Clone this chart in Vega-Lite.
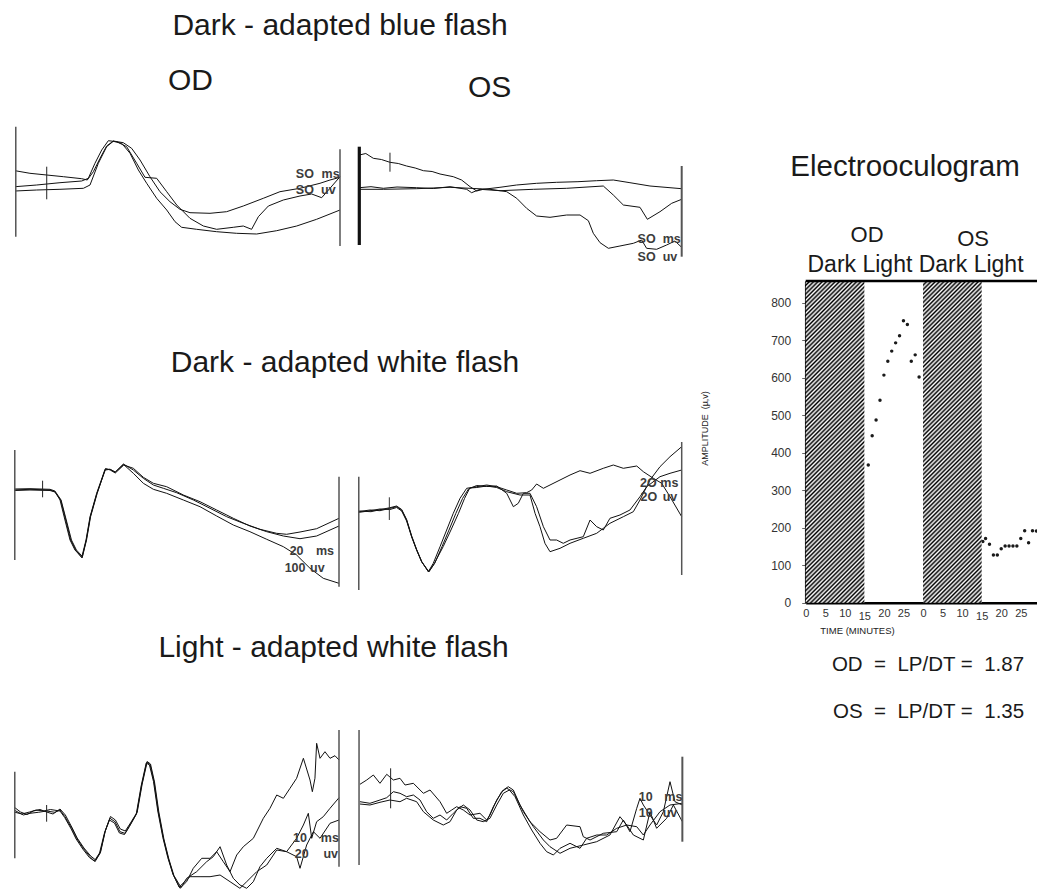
{
"$schema": "https://vega.github.io/schema/vega-lite/v6.json",
"width": 1037, "height": 890, "padding": 0, "autosize": {"type": "none"},
"background": "white",
"config": {"view": {"stroke": null}, "font": "Liberation Sans"},
"datasets": {
"r1l": [
{"k":"L","s":"a","t":0,"v":159.3},{"k":"L","s":"a","t":11.5,"v":156.7},{"k":"L","s":"a","t":24.4,"v":155},{"k":"L","s":"a","t":37.2,"v":153.3},{"k":"L","s":"a","t":51.3,"v":151.3},{"k":"L","s":"a","t":55.6,"v":150},{"k":"L","s":"a","t":60.3,"v":158.3},{"k":"L","s":"a","t":65.4,"v":171.7},{"k":"L","s":"a","t":70.5,"v":184},{"k":"L","s":"a","t":75.6,"v":189},{"k":"L","s":"a","t":83.3,"v":187.3},{"k":"L","s":"a","t":89.7,"v":181.7},{"k":"L","s":"a","t":96.2,"v":170},{"k":"L","s":"a","t":103.8,"v":153.3},{"k":"L","s":"a","t":111.5,"v":138.3},{"k":"L","s":"a","t":119.2,"v":128.3},{"k":"L","s":"a","t":126.9,"v":120.7},{"k":"L","s":"a","t":134.6,"v":117.3},{"k":"L","s":"a","t":150,"v":116.7},{"k":"L","s":"a","t":162.8,"v":118.3},{"k":"L","s":"a","t":175.6,"v":124},{"k":"L","s":"a","t":191,"v":131.7},{"k":"L","s":"a","t":203.8,"v":138.3},{"k":"L","s":"a","t":219.2,"v":141.7},{"k":"L","s":"a","t":234.6,"v":146.7},{"k":"L","s":"a","t":242.3,"v":150},{"k":"L","s":"a","t":250,"v":152.7},
{"k":"L","s":"b","t":0,"v":143.3},{"k":"L","s":"b","t":16.7,"v":145},{"k":"L","s":"b","t":34.6,"v":147.3},{"k":"L","s":"b","t":51.3,"v":149},{"k":"L","s":"b","t":56.4,"v":151.7},{"k":"L","s":"b","t":61.5,"v":166.7},{"k":"L","s":"b","t":66.7,"v":180},{"k":"L","s":"b","t":71.8,"v":189.3},{"k":"L","s":"b","t":78.2,"v":188.3},{"k":"L","s":"b","t":85.9,"v":183.3},{"k":"L","s":"b","t":93.6,"v":166.7},{"k":"L","s":"b","t":100,"v":152.7},{"k":"L","s":"b","t":109,"v":151.7},{"k":"L","s":"b","t":116.7,"v":138.3},{"k":"L","s":"b","t":124.4,"v":125},{"k":"L","s":"b","t":134.6,"v":111.7},{"k":"L","s":"b","t":144.9,"v":104},{"k":"L","s":"b","t":155.1,"v":100.7},{"k":"L","s":"b","t":167.9,"v":102.7},{"k":"L","s":"b","t":175.6,"v":104},{"k":"L","s":"b","t":182,"v":100.7},{"k":"L","s":"b","t":187.2,"v":113.3},{"k":"L","s":"b","t":194.9,"v":124},{"k":"L","s":"b","t":206.4,"v":130},{"k":"L","s":"b","t":219.2,"v":134},{"k":"L","s":"b","t":228.2,"v":136},{"k":"L","s":"b","t":235.9,"v":132.3},{"k":"L","s":"b","t":242.3,"v":141.7},{"k":"L","s":"b","t":250,"v":153.3},
{"k":"L","s":"c","t":0,"v":139},{"k":"L","s":"c","t":16.7,"v":140},{"k":"L","s":"c","t":34.6,"v":140.7},{"k":"L","s":"c","t":52.6,"v":141.7},{"k":"L","s":"c","t":57.7,"v":145},{"k":"L","s":"c","t":64.1,"v":166.7},{"k":"L","s":"c","t":70.5,"v":183.3},{"k":"L","s":"c","t":75.6,"v":188.7},{"k":"L","s":"c","t":82.1,"v":186.7},{"k":"L","s":"c","t":88.5,"v":176.7},{"k":"L","s":"c","t":94.9,"v":160},{"k":"L","s":"c","t":101.3,"v":146.7},{"k":"L","s":"c","t":109,"v":131.7},{"k":"L","s":"c","t":116.7,"v":120},{"k":"L","s":"c","t":123.1,"v":108.3},{"k":"L","s":"c","t":128.2,"v":102.7},{"k":"L","s":"c","t":139.7,"v":100.7},{"k":"L","s":"c","t":155.1,"v":98.3},{"k":"L","s":"c","t":170.5,"v":96.7},{"k":"L","s":"c","t":185.9,"v":96},{"k":"L","s":"c","t":201.3,"v":99.3},{"k":"L","s":"c","t":216.7,"v":104},{"k":"L","s":"c","t":232,"v":110.7},{"k":"L","s":"c","t":250,"v":120},
{"k":"R","t":0.6,"v":203.3,"v2":93.3,"w":1.5,"c":"#555"},{"k":"R","t":250,"v":180.7,"v2":84,"w":1.5,"c":"#555"},{"k":"R","t":24.4,"v":163.3,"v2":130.7,"w":1,"c":"#222"},
{"k":"S","t":223,"v":156,"txt":"SO"},{"k":"S","t":242.8,"v":156,"txt":"ms"},{"k":"S","t":223,"v":140,"txt":"SO"},{"k":"S","t":241,"v":140,"txt":"uv"},
{"k":"T","t":250,"v":304,"txt":"Dark - adapted blue flash"},{"k":"T","t":135,"v":249.5,"txt":"OD"}
],
"r1r": [
{"k":"L","s":"a","t":1,"v":175},{"k":"L","s":"a","t":6,"v":176.5},{"k":"L","s":"a","t":11.8,"v":171.7},{"k":"L","s":"a","t":18,"v":170.5},{"k":"L","s":"a","t":24.6,"v":167.7},{"k":"L","s":"a","t":31,"v":166.5},{"k":"L","s":"a","t":37.4,"v":164},{"k":"L","s":"a","t":44,"v":162},{"k":"L","s":"a","t":50.3,"v":159.3},{"k":"L","s":"a","t":57,"v":158.5},{"k":"L","s":"a","t":63.1,"v":156},{"k":"L","s":"a","t":73.3,"v":153.3},{"k":"L","s":"a","t":79.7,"v":150},{"k":"L","s":"a","t":86.2,"v":143.3},{"k":"L","s":"a","t":91.3,"v":139},{"k":"L","s":"a","t":96.4,"v":140.7},{"k":"L","s":"a","t":109.2,"v":142.7},{"k":"L","s":"a","t":122,"v":145},{"k":"L","s":"a","t":137.4,"v":146.7},{"k":"L","s":"a","t":152.8,"v":147.7},{"k":"L","s":"a","t":169.2,"v":148.3},{"k":"L","s":"a","t":183.6,"v":149.3},{"k":"L","s":"a","t":196.4,"v":150},{"k":"L","s":"a","t":209.2,"v":147.3},{"k":"L","s":"a","t":224.6,"v":144},{"k":"L","s":"a","t":249,"v":141.3},
{"k":"L","s":"b","t":1,"v":142.3},{"k":"L","s":"b","t":10,"v":143.3},{"k":"L","s":"b","t":19.5,"v":141.7},{"k":"L","s":"b","t":30,"v":143},{"k":"L","s":"b","t":45.1,"v":142.3},{"k":"L","s":"b","t":58,"v":141.5},{"k":"L","s":"b","t":70.8,"v":143.3},{"k":"L","s":"b","t":83.6,"v":140.7},{"k":"L","s":"b","t":87.4,"v":137.3},{"k":"L","s":"b","t":93.8,"v":140.7},{"k":"L","s":"b","t":109.2,"v":139.3},{"k":"L","s":"b","t":134.9,"v":140.7},{"k":"L","s":"b","t":160.5,"v":141.7},{"k":"L","s":"b","t":188.7,"v":144},{"k":"L","s":"b","t":196.4,"v":135},{"k":"L","s":"b","t":204.1,"v":125},{"k":"L","s":"b","t":216.9,"v":122.7},{"k":"L","s":"b","t":222.6,"v":110.7},{"k":"L","s":"b","t":232.3,"v":118.3},{"k":"L","s":"b","t":241.3,"v":126.7},{"k":"L","s":"b","t":249,"v":130.7},
{"k":"L","s":"c","t":1,"v":140.7},{"k":"L","s":"c","t":19.5,"v":140.7},{"k":"L","s":"c","t":45.1,"v":141.3},{"k":"L","s":"c","t":70.8,"v":142.7},{"k":"L","s":"c","t":86.2,"v":141.7},{"k":"L","s":"c","t":101.5,"v":140.7},{"k":"L","s":"c","t":114.4,"v":138.3},{"k":"L","s":"c","t":122.1,"v":131.7},{"k":"L","s":"c","t":129.7,"v":121.7},{"k":"L","s":"c","t":137.4,"v":114},{"k":"L","s":"c","t":147.7,"v":112.7},{"k":"L","s":"c","t":160.5,"v":115},{"k":"L","s":"c","t":170.8,"v":115},{"k":"L","s":"c","t":177.2,"v":109.3},{"k":"L","s":"c","t":181,"v":96.7},{"k":"L","s":"c","t":186.2,"v":87.3},{"k":"L","s":"c","t":192.6,"v":81.7},{"k":"L","s":"c","t":201.5,"v":84},{"k":"L","s":"c","t":211.8,"v":86.7},{"k":"L","s":"c","t":218.2,"v":90},{"k":"L","s":"c","t":222,"v":81.7},{"k":"L","s":"c","t":229.7,"v":80.7},{"k":"L","s":"c","t":237.4,"v":85},{"k":"L","s":"c","t":243.8,"v":89},{"k":"L","s":"c","t":249,"v":82.7},
{"k":"R","t":1,"v":183.3,"v2":85,"w":3.2,"c":"#111"},{"k":"R","t":249,"v":164,"v2":73.3,"w":2,"c":"#555"},{"k":"R","t":24.6,"v":177.3,"v2":158.3,"w":1,"c":"#222"},
{"k":"S","t":222,"v":90.7,"txt":"SO"},{"k":"S","t":241.3,"v":90.7,"txt":"ms"},{"k":"S","t":222,"v":73.3,"txt":"SO"},{"k":"S","t":240,"v":73.3,"txt":"uv"},
{"k":"T","t":101.2,"v":242,"txt":"OS"}
],
"r2l": [
{"k":"L","s":"a","t":0,"v":130},{"k":"L","s":"a","t":12.3,"v":130.7},{"k":"L","s":"a","t":27.7,"v":130},{"k":"L","s":"a","t":31.5,"v":128.3},{"k":"L","s":"a","t":35.4,"v":120},{"k":"L","s":"a","t":39.2,"v":100},{"k":"L","s":"a","t":43.1,"v":80},{"k":"L","s":"a","t":46.9,"v":70},{"k":"L","s":"a","t":52.1,"v":62.7},{"k":"L","s":"a","t":55.4,"v":80},{"k":"L","s":"a","t":58.5,"v":103.3},{"k":"L","s":"a","t":63.6,"v":126.7},{"k":"L","s":"a","t":70,"v":150.7},{"k":"L","s":"a","t":73.8,"v":150.7},{"k":"L","s":"a","t":77.7,"v":147.7},{"k":"L","s":"a","t":84.1,"v":156},{"k":"L","s":"a","t":91.8,"v":150},{"k":"L","s":"a","t":99.5,"v":141.7},{"k":"L","s":"a","t":107.2,"v":135},{"k":"L","s":"a","t":114.9,"v":131.7},{"k":"L","s":"a","t":125.1,"v":127.3},{"k":"L","s":"a","t":138,"v":120},{"k":"L","s":"a","t":150.8,"v":111.7},{"k":"L","s":"a","t":163.6,"v":103.3},{"k":"L","s":"a","t":176.4,"v":96.7},{"k":"L","s":"a","t":189.2,"v":90.7},{"k":"L","s":"a","t":202,"v":86.7},{"k":"L","s":"a","t":209.7,"v":85.7},{"k":"L","s":"a","t":220,"v":88},{"k":"L","s":"a","t":232.8,"v":91.3},{"k":"L","s":"a","t":250,"v":101.7},
{"k":"L","s":"b","t":0,"v":131},{"k":"L","s":"b","t":12.3,"v":131.3},{"k":"L","s":"b","t":27.7,"v":130.7},{"k":"L","s":"b","t":31.5,"v":129},{"k":"L","s":"b","t":36.2,"v":120},{"k":"L","s":"b","t":40.2,"v":100},{"k":"L","s":"b","t":44.2,"v":80},{"k":"L","s":"b","t":48,"v":70},{"k":"L","s":"b","t":52.6,"v":63.5},{"k":"L","s":"b","t":55.8,"v":80},{"k":"L","s":"b","t":58.9,"v":103.3},{"k":"L","s":"b","t":64,"v":126.7},{"k":"L","s":"b","t":70.4,"v":151.5},{"k":"L","s":"b","t":74,"v":150},{"k":"L","s":"b","t":77.9,"v":147},{"k":"L","s":"b","t":84.5,"v":155},{"k":"L","s":"b","t":91.8,"v":151.7},{"k":"L","s":"b","t":99.5,"v":142.7},{"k":"L","s":"b","t":107.2,"v":136.7},{"k":"L","s":"b","t":117.4,"v":133.3},{"k":"L","s":"b","t":130.3,"v":125},{"k":"L","s":"b","t":143.1,"v":118.3},{"k":"L","s":"b","t":155.9,"v":110},{"k":"L","s":"b","t":168.7,"v":101.7},{"k":"L","s":"b","t":181.5,"v":94},{"k":"L","s":"b","t":194.4,"v":88.3},{"k":"L","s":"b","t":207.2,"v":84},{"k":"L","s":"b","t":220,"v":81.3},{"k":"L","s":"b","t":232.8,"v":84},{"k":"L","s":"b","t":250,"v":94},
{"k":"L","s":"c","t":0,"v":129.5},{"k":"L","s":"c","t":12.3,"v":130},{"k":"L","s":"c","t":27.7,"v":129.5},{"k":"L","s":"c","t":31.5,"v":128},{"k":"L","s":"c","t":35.9,"v":120},{"k":"L","s":"c","t":39.8,"v":100},{"k":"L","s":"c","t":43.6,"v":80},{"k":"L","s":"c","t":47.4,"v":70},{"k":"L","s":"c","t":52.4,"v":62},{"k":"L","s":"c","t":55.6,"v":80},{"k":"L","s":"c","t":58.7,"v":103.3},{"k":"L","s":"c","t":63.8,"v":126.7},{"k":"L","s":"c","t":70.2,"v":150},{"k":"L","s":"c","t":74,"v":150.7},{"k":"L","s":"c","t":78,"v":148},{"k":"L","s":"c","t":84.3,"v":155.5},{"k":"L","s":"c","t":91.8,"v":146.7},{"k":"L","s":"c","t":99.5,"v":136.7},{"k":"L","s":"c","t":107.2,"v":130.7},{"k":"L","s":"c","t":117.4,"v":126.7},{"k":"L","s":"c","t":130.3,"v":120},{"k":"L","s":"c","t":143.1,"v":113.3},{"k":"L","s":"c","t":155.9,"v":104},{"k":"L","s":"c","t":168.7,"v":95},{"k":"L","s":"c","t":181.5,"v":88.3},{"k":"L","s":"c","t":194.4,"v":80.7},{"k":"L","s":"c","t":207.2,"v":73.3},{"k":"L","s":"c","t":217.4,"v":65},{"k":"L","s":"c","t":227.7,"v":51.7},{"k":"L","s":"c","t":237.9,"v":41.7},{"k":"L","s":"c","t":250,"v":36.7},
{"k":"R","t":0.6,"v":170,"v2":60,"w":1.5,"c":"#555"},{"k":"R","t":250,"v":143.3,"v2":33.3,"w":1.5,"c":"#555"},{"k":"R","t":22,"v":139.3,"v2":122.7,"w":1,"c":"#222"},
{"k":"S","t":217.4,"v":69,"txt":"20"},{"k":"S","t":239.2,"v":69,"txt":"ms"},{"k":"S","t":216.2,"v":52.3,"txt":"100"},{"k":"S","t":233.3,"v":52.3,"txt":"uv"},
{"k":"T","t":254.6,"v":257,"txt":"Dark - adapted white flash"}
],
"r2r": [
{"k":"L","s":"a","t":0,"v":108.3},{"k":"L","s":"a","t":9.2,"v":110},{"k":"L","s":"a","t":16.9,"v":109.3},{"k":"L","s":"a","t":24.6,"v":111.7},{"k":"L","s":"a","t":29.7,"v":113.3},{"k":"L","s":"a","t":33.6,"v":110},{"k":"L","s":"a","t":37.4,"v":100},{"k":"L","s":"a","t":41.3,"v":83.3},{"k":"L","s":"a","t":45.1,"v":70},{"k":"L","s":"a","t":49,"v":58.3},{"k":"L","s":"a","t":54.1,"v":48.3},{"k":"L","s":"a","t":57.9,"v":56.7},{"k":"L","s":"a","t":63.1,"v":73.3},{"k":"L","s":"a","t":68.2,"v":90},{"k":"L","s":"a","t":73.3,"v":106.7},{"k":"L","s":"a","t":78.5,"v":121.7},{"k":"L","s":"a","t":83.6,"v":131.7},{"k":"L","s":"a","t":91.3,"v":133.3},{"k":"L","s":"a","t":99,"v":135},{"k":"L","s":"a","t":106.7,"v":133.3},{"k":"L","s":"a","t":114.4,"v":130},{"k":"L","s":"a","t":122.1,"v":126.7},{"k":"L","s":"a","t":129.7,"v":127.3},{"k":"L","s":"a","t":133.6,"v":130},{"k":"L","s":"a","t":137.4,"v":136},{"k":"L","s":"a","t":142.6,"v":131.7},{"k":"L","s":"a","t":147.7,"v":135},{"k":"L","s":"a","t":155.4,"v":140},{"k":"L","s":"a","t":163.1,"v":145},{"k":"L","s":"a","t":170.8,"v":149.3},{"k":"L","s":"a","t":178.5,"v":146.7},{"k":"L","s":"a","t":188.7,"v":151.7},{"k":"L","s":"a","t":196.4,"v":155},{"k":"L","s":"a","t":204.1,"v":151.7},{"k":"L","s":"a","t":214.4,"v":154},{"k":"L","s":"a","t":219.5,"v":148.3},{"k":"L","s":"a","t":227.2,"v":141.7},{"k":"L","s":"a","t":233.6,"v":136.7},{"k":"L","s":"a","t":240,"v":123.3},{"k":"L","s":"a","t":249,"v":103.3},
{"k":"L","s":"b","t":0,"v":107.5},{"k":"L","s":"b","t":8,"v":109},{"k":"L","s":"b","t":16.9,"v":111},{"k":"L","s":"b","t":24.6,"v":110.5},{"k":"L","s":"b","t":29.7,"v":112.5},{"k":"L","s":"b","t":33.6,"v":109},{"k":"L","s":"b","t":37.4,"v":99},{"k":"L","s":"b","t":41.3,"v":83},{"k":"L","s":"b","t":45.1,"v":70},{"k":"L","s":"b","t":49,"v":58},{"k":"L","s":"b","t":54.6,"v":48.3},{"k":"L","s":"b","t":59,"v":56.7},{"k":"L","s":"b","t":64.6,"v":73.3},{"k":"L","s":"b","t":70,"v":90},{"k":"L","s":"b","t":75.3,"v":106.7},{"k":"L","s":"b","t":80.5,"v":121.7},{"k":"L","s":"b","t":85,"v":131},{"k":"L","s":"b","t":91.3,"v":134.5},{"k":"L","s":"b","t":99,"v":133.5},{"k":"L","s":"b","t":106.7,"v":134},{"k":"L","s":"b","t":114.4,"v":126.7},{"k":"L","s":"b","t":119.5,"v":113.3},{"k":"L","s":"b","t":123.3,"v":116.7},{"k":"L","s":"b","t":127.2,"v":126.7},{"k":"L","s":"b","t":132.3,"v":126.7},{"k":"L","s":"b","t":137.4,"v":113.3},{"k":"L","s":"b","t":142.6,"v":93.3},{"k":"L","s":"b","t":147.7,"v":80},{"k":"L","s":"b","t":152.8,"v":80},{"k":"L","s":"b","t":157.9,"v":76.7},{"k":"L","s":"b","t":163.1,"v":80},{"k":"L","s":"b","t":173.3,"v":83.3},{"k":"L","s":"b","t":178.5,"v":100},{"k":"L","s":"b","t":183.6,"v":93.3},{"k":"L","s":"b","t":188.7,"v":90},{"k":"L","s":"b","t":193.8,"v":101.7},{"k":"L","s":"b","t":201.5,"v":105},{"k":"L","s":"b","t":209.2,"v":110},{"k":"L","s":"b","t":216.9,"v":123.3},{"k":"L","s":"b","t":222.1,"v":133.3},{"k":"L","s":"b","t":232.3,"v":143.3},{"k":"L","s":"b","t":240,"v":146.7},{"k":"L","s":"b","t":249,"v":150},
{"k":"L","s":"c","t":0,"v":109},{"k":"L","s":"c","t":10,"v":108.3},{"k":"L","s":"c","t":16.9,"v":110.3},{"k":"L","s":"c","t":24.6,"v":112.3},{"k":"L","s":"c","t":29.7,"v":114},{"k":"L","s":"c","t":33.6,"v":110.5},{"k":"L","s":"c","t":37.4,"v":100.5},{"k":"L","s":"c","t":41.3,"v":84},{"k":"L","s":"c","t":45.1,"v":70.5},{"k":"L","s":"c","t":49,"v":58.5},{"k":"L","s":"c","t":54.3,"v":48},{"k":"L","s":"c","t":58.8,"v":56.7},{"k":"L","s":"c","t":65.5,"v":73.3},{"k":"L","s":"c","t":71.5,"v":90},{"k":"L","s":"c","t":77.3,"v":106.7},{"k":"L","s":"c","t":82,"v":121.7},{"k":"L","s":"c","t":86,"v":132},{"k":"L","s":"c","t":91.3,"v":132.5},{"k":"L","s":"c","t":99,"v":134},{"k":"L","s":"c","t":106.7,"v":132.5},{"k":"L","s":"c","t":114.4,"v":128.3},{"k":"L","s":"c","t":124.6,"v":125},{"k":"L","s":"c","t":132.3,"v":125},{"k":"L","s":"c","t":136.2,"v":106.7},{"k":"L","s":"c","t":140,"v":93.3},{"k":"L","s":"c","t":143.8,"v":76.7},{"k":"L","s":"c","t":147.7,"v":68.3},{"k":"L","s":"c","t":155.4,"v":71.7},{"k":"L","s":"c","t":163.1,"v":76.7},{"k":"L","s":"c","t":173.3,"v":81.7},{"k":"L","s":"c","t":183.6,"v":86.7},{"k":"L","s":"c","t":193.8,"v":96.7},{"k":"L","s":"c","t":204.1,"v":103.3},{"k":"L","s":"c","t":211.8,"v":108.3},{"k":"L","s":"c","t":216.9,"v":120},{"k":"L","s":"c","t":224.6,"v":140},{"k":"L","s":"c","t":232.3,"v":153.3},{"k":"L","s":"c","t":240,"v":163.3},{"k":"L","s":"c","t":249,"v":173.3},
{"k":"R","t":0.6,"v":143.3,"v2":30,"w":1.5,"c":"#555"},{"k":"R","t":249,"v":178,"v2":45,"w":1.5,"c":"#555"},{"k":"R","t":24.1,"v":122.7,"v2":100,"w":1,"c":"#333"},
{"k":"S","t":223.3,"v":137.3,"txt":"2O"},{"k":"S","t":239.5,"v":137.3,"txt":"ms"},{"k":"S","t":223.8,"v":122.7,"txt":"2O"},{"k":"S","t":240,"v":122.7,"txt":"uv"}
],
"r3l": [
{"k":"L","s":"a","t":0,"v":80},{"k":"L","s":"a","t":7.2,"v":75},{"k":"L","s":"a","t":12.3,"v":76.7},{"k":"L","s":"a","t":18.7,"v":77.7},{"k":"L","s":"a","t":25.1,"v":79},{"k":"L","s":"a","t":31.5,"v":77.7},{"k":"L","s":"a","t":35.4,"v":80},{"k":"L","s":"a","t":39.2,"v":73.3},{"k":"L","s":"a","t":44.4,"v":61.7},{"k":"L","s":"a","t":48.2,"v":51.7},{"k":"L","s":"a","t":53.3,"v":41.7},{"k":"L","s":"a","t":58.5,"v":33.3},{"k":"L","s":"a","t":62.3,"v":28.3},{"k":"L","s":"a","t":66.2,"v":36.7},{"k":"L","s":"a","t":70,"v":58.3},{"k":"L","s":"a","t":73.8,"v":71.7},{"k":"L","s":"a","t":77.7,"v":68.3},{"k":"L","s":"a","t":81.5,"v":58.3},{"k":"L","s":"a","t":85.4,"v":56.7},{"k":"L","s":"a","t":89.2,"v":65},{"k":"L","s":"a","t":94.4,"v":76.7},{"k":"L","s":"a","t":98.2,"v":105},{"k":"L","s":"a","t":102.1,"v":127.7},{"k":"L","s":"a","t":104.6,"v":125.7},{"k":"L","s":"a","t":107.7,"v":108.3},{"k":"L","s":"a","t":111,"v":78.3},{"k":"L","s":"a","t":114.9,"v":51.7},{"k":"L","s":"a","t":118.7,"v":31.7},{"k":"L","s":"a","t":122.6,"v":15},{"k":"L","s":"a","t":127.7,"v":1.7},{"k":"L","s":"a","t":132.8,"v":8.3},{"k":"L","s":"a","t":137.9,"v":21.7},{"k":"L","s":"a","t":144.4,"v":31.7},{"k":"L","s":"a","t":150.8,"v":31.7},{"k":"L","s":"a","t":155.9,"v":38.3},{"k":"L","s":"a","t":161,"v":28.3},{"k":"L","s":"a","t":166.2,"v":18.3},{"k":"L","s":"a","t":171.3,"v":35},{"k":"L","s":"a","t":176.4,"v":43.3},{"k":"L","s":"a","t":184.1,"v":51.7},{"k":"L","s":"a","t":191.8,"v":71.7},{"k":"L","s":"a","t":196.9,"v":81.7},{"k":"L","s":"a","t":202.1,"v":95},{"k":"L","s":"a","t":207.2,"v":91.7},{"k":"L","s":"a","t":212.3,"v":101.7},{"k":"L","s":"a","t":217.4,"v":111.7},{"k":"L","s":"a","t":222.6,"v":131.7},{"k":"L","s":"a","t":227.7,"v":110},{"k":"L","s":"a","t":229.5,"v":98.3},{"k":"L","s":"a","t":231.5,"v":111.7},{"k":"L","s":"a","t":232.8,"v":146.7},{"k":"L","s":"a","t":235.4,"v":131.7},{"k":"L","s":"a","t":239.2,"v":138.3},{"k":"L","s":"a","t":243.1,"v":131.7},{"k":"L","s":"a","t":246.9,"v":134.3},{"k":"L","s":"a","t":250,"v":130},
{"k":"L","s":"b","t":0,"v":83},{"k":"L","s":"b","t":5,"v":78},{"k":"L","s":"b","t":10,"v":75.5},{"k":"L","s":"b","t":15,"v":79},{"k":"L","s":"b","t":20,"v":80.5},{"k":"L","s":"b","t":25.1,"v":78},{"k":"L","s":"b","t":30,"v":76},{"k":"L","s":"b","t":35.4,"v":81},{"k":"L","s":"b","t":39.5,"v":75},{"k":"L","s":"b","t":44.8,"v":62},{"k":"L","s":"b","t":48.6,"v":52},{"k":"L","s":"b","t":53.8,"v":42},{"k":"L","s":"b","t":59,"v":34},{"k":"L","s":"b","t":62.8,"v":30},{"k":"L","s":"b","t":66.6,"v":38},{"k":"L","s":"b","t":70.4,"v":60},{"k":"L","s":"b","t":74.2,"v":73.5},{"k":"L","s":"b","t":78,"v":70},{"k":"L","s":"b","t":81.8,"v":61},{"k":"L","s":"b","t":85.6,"v":59},{"k":"L","s":"b","t":89.6,"v":67},{"k":"L","s":"b","t":94.8,"v":78},{"k":"L","s":"b","t":98.6,"v":106},{"k":"L","s":"b","t":102.5,"v":128.5},{"k":"L","s":"b","t":105,"v":126},{"k":"L","s":"b","t":108.1,"v":108},{"k":"L","s":"b","t":111.4,"v":78},{"k":"L","s":"b","t":115.3,"v":51},{"k":"L","s":"b","t":119.1,"v":31},{"k":"L","s":"b","t":123,"v":14.5},{"k":"L","s":"b","t":128.5,"v":2.5},{"k":"L","s":"b","t":132.8,"v":11.7},{"k":"L","s":"b","t":140.5,"v":18.3},{"k":"L","s":"b","t":148.2,"v":28.3},{"k":"L","s":"b","t":153.3,"v":33.3},{"k":"L","s":"b","t":158.5,"v":43.3},{"k":"L","s":"b","t":163.6,"v":25},{"k":"L","s":"b","t":168.7,"v":11.7},{"k":"L","s":"b","t":173.8,"v":5},{"k":"L","s":"b","t":179,"v":1.7},{"k":"L","s":"b","t":184.1,"v":8.3},{"k":"L","s":"b","t":189.2,"v":23.3},{"k":"L","s":"b","t":194.4,"v":31.7},{"k":"L","s":"b","t":202.1,"v":41.7},{"k":"L","s":"b","t":209.7,"v":38.3},{"k":"L","s":"b","t":217.4,"v":51.7},{"k":"L","s":"b","t":222.6,"v":65},{"k":"L","s":"b","t":226.4,"v":76.7},{"k":"L","s":"b","t":229,"v":51.7},{"k":"L","s":"b","t":232.8,"v":68.3},{"k":"L","s":"b","t":237.9,"v":73.3},{"k":"L","s":"b","t":243.1,"v":81.7},{"k":"L","s":"b","t":250,"v":92.3},
{"k":"L","s":"c","t":0,"v":78},{"k":"L","s":"c","t":6,"v":76},{"k":"L","s":"c","t":12,"v":78},{"k":"L","s":"c","t":17,"v":80},{"k":"L","s":"c","t":23,"v":79},{"k":"L","s":"c","t":28,"v":80.5},{"k":"L","s":"c","t":35.4,"v":79},{"k":"L","s":"c","t":39,"v":72.5},{"k":"L","s":"c","t":44,"v":61},{"k":"L","s":"c","t":47.8,"v":51},{"k":"L","s":"c","t":52.9,"v":41},{"k":"L","s":"c","t":58,"v":32.5},{"k":"L","s":"c","t":61.8,"v":29},{"k":"L","s":"c","t":65.8,"v":37},{"k":"L","s":"c","t":69.6,"v":57},{"k":"L","s":"c","t":73.4,"v":70},{"k":"L","s":"c","t":77.3,"v":67},{"k":"L","s":"c","t":81.1,"v":57},{"k":"L","s":"c","t":85,"v":55.5},{"k":"L","s":"c","t":88.8,"v":63.5},{"k":"L","s":"c","t":94,"v":75.5},{"k":"L","s":"c","t":97.8,"v":104},{"k":"L","s":"c","t":101.7,"v":127},{"k":"L","s":"c","t":104.2,"v":125},{"k":"L","s":"c","t":107.3,"v":108.5},{"k":"L","s":"c","t":110.6,"v":79},{"k":"L","s":"c","t":114.5,"v":52.5},{"k":"L","s":"c","t":118.3,"v":32.5},{"k":"L","s":"c","t":122.2,"v":16},{"k":"L","s":"c","t":127,"v":3},{"k":"L","s":"c","t":135.4,"v":13.3},{"k":"L","s":"c","t":143.1,"v":13.3},{"k":"L","s":"c","t":150.8,"v":13.3},{"k":"L","s":"c","t":158.5,"v":15},{"k":"L","s":"c","t":166.2,"v":8.3},{"k":"L","s":"c","t":173.8,"v":1.7},{"k":"L","s":"c","t":179,"v":8.3},{"k":"L","s":"c","t":186.7,"v":18.3},{"k":"L","s":"c","t":194.4,"v":25},{"k":"L","s":"c","t":202.1,"v":40},{"k":"L","s":"c","t":209.7,"v":38.3},{"k":"L","s":"c","t":217.4,"v":33.3},{"k":"L","s":"c","t":220,"v":21.7},{"k":"L","s":"c","t":225.1,"v":45},{"k":"L","s":"c","t":230.3,"v":58.3},{"k":"L","s":"c","t":235.4,"v":51.7},{"k":"L","s":"c","t":243.1,"v":66.7},{"k":"L","s":"c","t":250,"v":70},
{"k":"R","t":0.6,"v":118.3,"v2":31.7,"w":1.5,"c":"#555"},{"k":"R","t":250,"v":160,"v2":23.3,"w":1.5,"c":"#555"},{"k":"R","t":25.1,"v":85,"v2":68.3,"w":1,"c":"#222"},
{"k":"S","t":220,"v":51.7,"txt":"10"},{"k":"S","t":243,"v":51.7,"txt":"ms"},{"k":"S","t":221.3,"v":36,"txt":"20"},{"k":"S","t":243.6,"v":36,"txt":"uv"},
{"k":"T","t":245.8,"v":242,"txt":"Light - adapted white flash"}
],
"r3r": [
{"k":"L","s":"a","t":1.5,"v":105.7},{"k":"L","s":"a","t":6.7,"v":110},{"k":"L","s":"a","t":11.8,"v":115},{"k":"L","s":"a","t":16.9,"v":106.7},{"k":"L","s":"a","t":22.1,"v":115.7},{"k":"L","s":"a","t":27.2,"v":110},{"k":"L","s":"a","t":32.3,"v":111.7},{"k":"L","s":"a","t":36.2,"v":105},{"k":"L","s":"a","t":42.6,"v":106.7},{"k":"L","s":"a","t":50.3,"v":96.7},{"k":"L","s":"a","t":55.4,"v":100},{"k":"L","s":"a","t":63.1,"v":88.3},{"k":"L","s":"a","t":68.2,"v":76.7},{"k":"L","s":"a","t":72.1,"v":80},{"k":"L","s":"a","t":75.9,"v":83.3},{"k":"L","s":"a","t":81,"v":80},{"k":"L","s":"a","t":86.2,"v":75},{"k":"L","s":"a","t":93.8,"v":76.7},{"k":"L","s":"a","t":99,"v":70},{"k":"L","s":"a","t":101.5,"v":75},{"k":"L","s":"a","t":106.7,"v":90},{"k":"L","s":"a","t":111.8,"v":100},{"k":"L","s":"a","t":115.6,"v":103.3},{"k":"L","s":"a","t":119.5,"v":100},{"k":"L","s":"a","t":124.6,"v":85},{"k":"L","s":"a","t":132.3,"v":68.3},{"k":"L","s":"a","t":140,"v":58.3},{"k":"L","s":"a","t":147.7,"v":50},{"k":"L","s":"a","t":152.8,"v":51.7},{"k":"L","s":"a","t":160.5,"v":65},{"k":"L","s":"a","t":170.8,"v":63.3},{"k":"L","s":"a","t":173.3,"v":53.3},{"k":"L","s":"a","t":178.5,"v":50},{"k":"L","s":"a","t":188.7,"v":56.7},{"k":"L","s":"a","t":199,"v":58.3},{"k":"L","s":"a","t":204.1,"v":70},{"k":"L","s":"a","t":209.2,"v":58.3},{"k":"L","s":"a","t":214.4,"v":81.7},{"k":"L","s":"a","t":216.9,"v":91.7},{"k":"L","s":"a","t":219.5,"v":85},{"k":"L","s":"a","t":224.6,"v":75},{"k":"L","s":"a","t":229.7,"v":65},{"k":"L","s":"a","t":234.9,"v":78.3},{"k":"L","s":"a","t":240,"v":108.3},{"k":"L","s":"a","t":243.8,"v":88.3},{"k":"L","s":"a","t":249.5,"v":85},
{"k":"L","s":"b","t":1.5,"v":88.3},{"k":"L","s":"b","t":9.2,"v":86.7},{"k":"L","s":"b","t":16.9,"v":90},{"k":"L","s":"b","t":22.1,"v":92.3},{"k":"L","s":"b","t":27.2,"v":98.3},{"k":"L","s":"b","t":32.3,"v":96.7},{"k":"L","s":"b","t":37.4,"v":93.3},{"k":"L","s":"b","t":42.6,"v":95},{"k":"L","s":"b","t":47.7,"v":90},{"k":"L","s":"b","t":52.8,"v":78.3},{"k":"L","s":"b","t":57.9,"v":71.7},{"k":"L","s":"b","t":63.1,"v":75},{"k":"L","s":"b","t":68.2,"v":70},{"k":"L","s":"b","t":73.3,"v":76.7},{"k":"L","s":"b","t":78.5,"v":83.3},{"k":"L","s":"b","t":83.6,"v":81.7},{"k":"L","s":"b","t":88.7,"v":71.7},{"k":"L","s":"b","t":93.8,"v":71.7},{"k":"L","s":"b","t":99,"v":68.3},{"k":"L","s":"b","t":104.1,"v":83.3},{"k":"L","s":"b","t":110.5,"v":98.3},{"k":"L","s":"b","t":114.4,"v":101.7},{"k":"L","s":"b","t":119.5,"v":98.3},{"k":"L","s":"b","t":127.2,"v":78.3},{"k":"L","s":"b","t":134.9,"v":63.3},{"k":"L","s":"b","t":142.6,"v":50},{"k":"L","s":"b","t":147.7,"v":43.3},{"k":"L","s":"b","t":155.4,"v":36.7},{"k":"L","s":"b","t":163.1,"v":41.7},{"k":"L","s":"b","t":173.3,"v":45},{"k":"L","s":"b","t":183.6,"v":48.3},{"k":"L","s":"b","t":193.8,"v":55},{"k":"L","s":"b","t":201.5,"v":73.3},{"k":"L","s":"b","t":206.7,"v":65},{"k":"L","s":"b","t":211.8,"v":55},{"k":"L","s":"b","t":219.5,"v":50},{"k":"L","s":"b","t":224.6,"v":78.3},{"k":"L","s":"b","t":229.7,"v":61.7},{"k":"L","s":"b","t":237.4,"v":71.7},{"k":"L","s":"b","t":242.6,"v":85},{"k":"L","s":"b","t":249.5,"v":68.3},
{"k":"L","s":"c","t":1.5,"v":86},{"k":"L","s":"c","t":9.2,"v":85},{"k":"L","s":"c","t":16.9,"v":87.7},{"k":"L","s":"c","t":24.6,"v":90},{"k":"L","s":"c","t":32.3,"v":88.3},{"k":"L","s":"c","t":37.4,"v":91.7},{"k":"L","s":"c","t":45.1,"v":88.3},{"k":"L","s":"c","t":50.3,"v":78.3},{"k":"L","s":"c","t":57.9,"v":70},{"k":"L","s":"c","t":65.6,"v":65},{"k":"L","s":"c","t":70.8,"v":68.3},{"k":"L","s":"c","t":75.9,"v":80},{"k":"L","s":"c","t":81,"v":85},{"k":"L","s":"c","t":86.2,"v":80},{"k":"L","s":"c","t":91.3,"v":70},{"k":"L","s":"c","t":96.4,"v":68.3},{"k":"L","s":"c","t":101.5,"v":71.7},{"k":"L","s":"c","t":106.7,"v":85},{"k":"L","s":"c","t":111.8,"v":96.7},{"k":"L","s":"c","t":116.4,"v":100},{"k":"L","s":"c","t":120.8,"v":93.3},{"k":"L","s":"c","t":127.2,"v":75},{"k":"L","s":"c","t":133.6,"v":60},{"k":"L","s":"c","t":140,"v":46.7},{"k":"L","s":"c","t":145.1,"v":38.3},{"k":"L","s":"c","t":150.3,"v":35},{"k":"L","s":"c","t":155.4,"v":41.7},{"k":"L","s":"c","t":163.1,"v":46.7},{"k":"L","s":"c","t":170.8,"v":41.7},{"k":"L","s":"c","t":175.9,"v":51.7},{"k":"L","s":"c","t":183.6,"v":55},{"k":"L","s":"c","t":191.3,"v":55},{"k":"L","s":"c","t":199,"v":61.7},{"k":"L","s":"c","t":206.7,"v":65},{"k":"L","s":"c","t":214.4,"v":63.3},{"k":"L","s":"c","t":219.5,"v":55},{"k":"L","s":"c","t":224.6,"v":65},{"k":"L","s":"c","t":232.3,"v":78.3},{"k":"L","s":"c","t":240,"v":85},{"k":"L","s":"c","t":249.5,"v":86.7},
{"k":"R","t":0.8,"v":160,"v2":25,"w":1.5,"c":"#555"},{"k":"R","t":249.5,"v":133.3,"v2":48.3,"w":2,"c":"#555"},{"k":"R","t":25.1,"v":121.7,"v2":81.7,"w":1,"c":"#222"},
{"k":"S","t":221.3,"v":93.3,"txt":"10"},{"k":"S","t":242.6,"v":93.3,"txt":"ms"},{"k":"S","t":221.3,"v":76.7,"txt":"10"},{"k":"S","t":240,"v":76.7,"txt":"uv"}
],
"eog": [
{"m":16,"a":367},{"m":17,"a":445},{"m":18,"a":487},{"m":19,"a":540},{"m":20,"a":607},{"m":21,"a":644},{"m":22,"a":671},{"m":23,"a":693},{"m":24,"a":712},{"m":25,"a":752},{"m":26,"a":742},{"m":27,"a":644},{"m":28,"a":661},{"m":29,"a":602},
{"m":45.3,"a":163},{"m":46,"a":171},{"m":47,"a":156},{"m":48,"a":127},{"m":49,"a":127},{"m":50,"a":144},{"m":51,"a":151},{"m":52,"a":151},{"m":53,"a":151},{"m":54,"a":151},{"m":55,"a":171},{"m":56,"a":192},{"m":57,"a":160},{"m":58,"a":192},{"m":59,"a":191}
],
"hatch": [{"m":0,"m2":15,"a":0,"a2":858},{"m":30,"m2":45,"a":0,"a2":858}],
"topline": [{"m":0,"m2":59.15,"a":858}],
"notes": [{"m":6.7,"a":-166,"txt":"OD\u00a0 = \u00a0LP/DT = \u00a01.87"},{"m":7,"a":-291,"txt":"OS\u00a0 = \u00a0LP/DT = \u00a01.35"}],
"headers": [
{"m":25.4,"a":1162,"txt":"Electrooculogram","sz":29.5},
{"m":15.7,"a":980,"txt":"OD","sz":22},
{"m":42.8,"a":971,"txt":"OS","sz":22},
{"m":28.08,"a":900,"txt":"Dark Light Dark Light","sz":23}
]
},
"resolve": {"scale": {"x": "independent", "y": "independent"}, "axis": {"x": "independent", "y": "independent"}},
"layer": [
{"data": {"name": "r1l"},
"encoding": {"x": {"field": "t", "type": "quantitative", "scale": {"domain": [0, 250], "range": [15, 340], "nice": false, "zero": false}, "axis": null}, "y": {"field": "v", "type": "quantitative", "scale": {"domain": [0, 330], "range": [330, 0], "nice": false, "zero": false}, "axis": null}},
"layer": [
{"transform": [{"filter": "datum.k==='L'"}], "mark": {"type": "line", "color": "#111", "strokeWidth": 1}, "encoding": {"detail": {"field": "s"}}},
{"transform": [{"filter": "datum.k==='R'"}], "mark": {"type": "rule"}, "encoding": {"y2": {"field": "v2"}, "strokeWidth": {"field": "w", "type": "quantitative", "scale": null}, "color": {"field": "c", "type": "nominal", "scale": null}}},
{"transform": [{"filter": "datum.k==='S'"}], "mark": {"type": "text", "fontSize": 12.5, "fontWeight": "bold", "color": "#3c3c3c", "align": "center", "baseline": "middle"}, "encoding": {"text": {"field": "txt"}}},
{"transform": [{"filter": "datum.k==='T'"}], "mark": {"type": "text", "fontSize": 30, "color": "#1a1a1a", "align": "center", "baseline": "middle"}, "encoding": {"text": {"field": "txt"}}}
]},
{"data": {"name": "r1r"},
"encoding": {"x": {"field": "t", "type": "quantitative", "scale": {"domain": [0, 250], "range": [358, 683], "nice": false, "zero": false}, "axis": null}, "y": {"field": "v", "type": "quantitative", "scale": {"domain": [0, 330], "range": [330, 0], "nice": false, "zero": false}, "axis": null}},
"layer": [
{"transform": [{"filter": "datum.k==='L'"}], "mark": {"type": "line", "color": "#111", "strokeWidth": 1}, "encoding": {"detail": {"field": "s"}}},
{"transform": [{"filter": "datum.k==='R'"}], "mark": {"type": "rule"}, "encoding": {"y2": {"field": "v2"}, "strokeWidth": {"field": "w", "type": "quantitative", "scale": null}, "color": {"field": "c", "type": "nominal", "scale": null}}},
{"transform": [{"filter": "datum.k==='S'"}], "mark": {"type": "text", "fontSize": 12.5, "fontWeight": "bold", "color": "#3c3c3c", "align": "center", "baseline": "middle"}, "encoding": {"text": {"field": "txt"}}},
{"transform": [{"filter": "datum.k==='T'"}], "mark": {"type": "text", "fontSize": 30, "color": "#1a1a1a", "align": "center", "baseline": "middle"}, "encoding": {"text": {"field": "txt"}}}
]},
{"data": {"name": "r2l"},
"encoding": {"x": {"field": "t", "type": "quantitative", "scale": {"domain": [0, 250], "range": [14, 339], "nice": false, "zero": false}, "axis": null}, "y": {"field": "v", "type": "quantitative", "scale": {"domain": [0, 290], "range": [620, 330], "nice": false, "zero": false}, "axis": null}},
"layer": [
{"transform": [{"filter": "datum.k==='L'"}], "mark": {"type": "line", "color": "#111", "strokeWidth": 1}, "encoding": {"detail": {"field": "s"}}},
{"transform": [{"filter": "datum.k==='R'"}], "mark": {"type": "rule"}, "encoding": {"y2": {"field": "v2"}, "strokeWidth": {"field": "w", "type": "quantitative", "scale": null}, "color": {"field": "c", "type": "nominal", "scale": null}}},
{"transform": [{"filter": "datum.k==='S'"}], "mark": {"type": "text", "fontSize": 12.5, "fontWeight": "bold", "color": "#3c3c3c", "align": "center", "baseline": "middle"}, "encoding": {"text": {"field": "txt"}}},
{"transform": [{"filter": "datum.k==='T'"}], "mark": {"type": "text", "fontSize": 30, "color": "#1a1a1a", "align": "center", "baseline": "middle"}, "encoding": {"text": {"field": "txt"}}}
]},
{"data": {"name": "r2r"},
"encoding": {"x": {"field": "t", "type": "quantitative", "scale": {"domain": [0, 250], "range": [358, 683], "nice": false, "zero": false}, "axis": null}, "y": {"field": "v", "type": "quantitative", "scale": {"domain": [0, 290], "range": [620, 330], "nice": false, "zero": false}, "axis": null}},
"layer": [
{"transform": [{"filter": "datum.k==='L'"}], "mark": {"type": "line", "color": "#111", "strokeWidth": 1}, "encoding": {"detail": {"field": "s"}}},
{"transform": [{"filter": "datum.k==='R'"}], "mark": {"type": "rule"}, "encoding": {"y2": {"field": "v2"}, "strokeWidth": {"field": "w", "type": "quantitative", "scale": null}, "color": {"field": "c", "type": "nominal", "scale": null}}},
{"transform": [{"filter": "datum.k==='S'"}], "mark": {"type": "text", "fontSize": 12.5, "fontWeight": "bold", "color": "#3c3c3c", "align": "center", "baseline": "middle"}, "encoding": {"text": {"field": "txt"}}}
]},
{"data": {"name": "r3l"},
"encoding": {"x": {"field": "t", "type": "quantitative", "scale": {"domain": [0, 250], "range": [14, 339], "nice": false, "zero": false}, "axis": null}, "y": {"field": "v", "type": "quantitative", "scale": {"domain": [0, 270], "range": [890, 620], "nice": false, "zero": false}, "axis": null}},
"layer": [
{"transform": [{"filter": "datum.k==='L'"}], "mark": {"type": "line", "color": "#111", "strokeWidth": 1}, "encoding": {"detail": {"field": "s"}}},
{"transform": [{"filter": "datum.k==='R'"}], "mark": {"type": "rule"}, "encoding": {"y2": {"field": "v2"}, "strokeWidth": {"field": "w", "type": "quantitative", "scale": null}, "color": {"field": "c", "type": "nominal", "scale": null}}},
{"transform": [{"filter": "datum.k==='S'"}], "mark": {"type": "text", "fontSize": 12.5, "fontWeight": "bold", "color": "#3c3c3c", "align": "center", "baseline": "middle"}, "encoding": {"text": {"field": "txt"}}},
{"transform": [{"filter": "datum.k==='T'"}], "mark": {"type": "text", "fontSize": 30, "color": "#1a1a1a", "align": "center", "baseline": "middle"}, "encoding": {"text": {"field": "txt"}}}
]},
{"data": {"name": "r3r"},
"encoding": {"x": {"field": "t", "type": "quantitative", "scale": {"domain": [0, 250], "range": [358, 683], "nice": false, "zero": false}, "axis": null}, "y": {"field": "v", "type": "quantitative", "scale": {"domain": [0, 270], "range": [890, 620], "nice": false, "zero": false}, "axis": null}},
"layer": [
{"transform": [{"filter": "datum.k==='L'"}], "mark": {"type": "line", "color": "#111", "strokeWidth": 1}, "encoding": {"detail": {"field": "s"}}},
{"transform": [{"filter": "datum.k==='R'"}], "mark": {"type": "rule"}, "encoding": {"y2": {"field": "v2"}, "strokeWidth": {"field": "w", "type": "quantitative", "scale": null}, "color": {"field": "c", "type": "nominal", "scale": null}}},
{"transform": [{"filter": "datum.k==='S'"}], "mark": {"type": "text", "fontSize": 12.5, "fontWeight": "bold", "color": "#3c3c3c", "align": "center", "baseline": "middle"}, "encoding": {"text": {"field": "txt"}}}
]},
{"data": {"name": "headers"},
"mark": {"type": "text", "color": "#1a1a1a", "align": "center", "baseline": "middle"},
"encoding": {
"x": {"field": "m", "type": "quantitative", "scale": {"domain": [0, 59.15], "range": [805.7, 1037], "nice": false, "zero": false}, "axis": null},
"y": {"field": "a", "type": "quantitative", "scale": {"domain": [858, 1607], "range": [281, 0], "nice": false, "zero": false}, "axis": null},
"text": {"field": "txt"},
"size": {"field": "sz", "type": "quantitative", "scale": null}
}},
{"encoding": {
"x": {"field": "m", "type": "quantitative", "scale": {"domain": [0, 59.15], "range": [805.7, 1037], "nice": false, "zero": false},
"axis": {"offset": -287.3, "values": [0,5,10,15,20,25,30,35,40,45,50,55], "labelExpr": "datum.value % 30", "ticks": false, "grid": false, "domain": true, "domainColor": "#000", "domainWidth": 2.5, "labelFontSize": 11, "labelColor": "#333", "labelPadding": {"condition": {"test": "datum.value % 30 === 15", "value": 8}, "value": 5}, "labelFlush": false, "labelOverlap": false, "title": "TIME (MINUTES)", "titleFontSize": 9.5, "titleFontWeight": "normal", "titleColor": "#222", "titleX": 857, "titleY": 23, "titleAlign": "center", "titleBaseline": "top"}},
"y": {"field": "a", "type": "quantitative", "scale": {"domain": [0, 858], "range": [602.7, 281], "nice": false, "zero": false},
"axis": {"offset": -805.7, "values": [0,100,200,300,400,500,600,700,800], "ticks": true, "tickSize": 4, "tickColor": "#666", "grid": false, "domain": true, "domainColor": "#000", "domainWidth": 2.5, "labelFontSize": 12, "labelColor": "#333", "labelPadding": 11, "title": "AMPLITUDE\u00a0 (µ,v)", "titleFontSize": 9, "titleFontWeight": "normal", "titleColor": "#222", "titleX": -96, "titleY": 428, "titleAngle": 270, "titleAlign": "center", "titleBaseline": "bottom"}}
},
"layer": [
{"data": {"name": "eog"}, "mark": {"type": "circle", "size": 12, "color": "#1a1a1a", "opacity": 1}},
{"data": {"name": "hatch"}, "mark": {"type": "rect", "color": {"gradient": "linear", "x1": 0, "y1": 0, "x2": 0.2358, "y2": 1.2937, "stops": [
{"offset":0,"color":"#000"},{"offset":0.005,"color":"#fff"},{"offset":0.01,"color":"#000"},{"offset":0.015,"color":"#fff"},{"offset":0.02,"color":"#000"},{"offset":0.025,"color":"#fff"},{"offset":0.03,"color":"#000"},{"offset":0.035,"color":"#fff"},{"offset":0.04,"color":"#000"},{"offset":0.045,"color":"#fff"},
{"offset":0.05,"color":"#000"},{"offset":0.055,"color":"#fff"},{"offset":0.06,"color":"#000"},{"offset":0.065,"color":"#fff"},{"offset":0.07,"color":"#000"},{"offset":0.075,"color":"#fff"},{"offset":0.08,"color":"#000"},{"offset":0.085,"color":"#fff"},{"offset":0.09,"color":"#000"},{"offset":0.095,"color":"#fff"},
{"offset":0.1,"color":"#000"},{"offset":0.105,"color":"#fff"},{"offset":0.11,"color":"#000"},{"offset":0.115,"color":"#fff"},{"offset":0.12,"color":"#000"},{"offset":0.125,"color":"#fff"},{"offset":0.13,"color":"#000"},{"offset":0.135,"color":"#fff"},{"offset":0.14,"color":"#000"},{"offset":0.145,"color":"#fff"},
{"offset":0.15,"color":"#000"},{"offset":0.155,"color":"#fff"},{"offset":0.16,"color":"#000"},{"offset":0.165,"color":"#fff"},{"offset":0.17,"color":"#000"},{"offset":0.175,"color":"#fff"},{"offset":0.18,"color":"#000"},{"offset":0.185,"color":"#fff"},{"offset":0.19,"color":"#000"},{"offset":0.195,"color":"#fff"},
{"offset":0.2,"color":"#000"},{"offset":0.205,"color":"#fff"},{"offset":0.21,"color":"#000"},{"offset":0.215,"color":"#fff"},{"offset":0.22,"color":"#000"},{"offset":0.225,"color":"#fff"},{"offset":0.23,"color":"#000"},{"offset":0.235,"color":"#fff"},{"offset":0.24,"color":"#000"},{"offset":0.245,"color":"#fff"},
{"offset":0.25,"color":"#000"},{"offset":0.255,"color":"#fff"},{"offset":0.26,"color":"#000"},{"offset":0.265,"color":"#fff"},{"offset":0.27,"color":"#000"},{"offset":0.275,"color":"#fff"},{"offset":0.28,"color":"#000"},{"offset":0.285,"color":"#fff"},{"offset":0.29,"color":"#000"},{"offset":0.295,"color":"#fff"},
{"offset":0.3,"color":"#000"},{"offset":0.305,"color":"#fff"},{"offset":0.31,"color":"#000"},{"offset":0.315,"color":"#fff"},{"offset":0.32,"color":"#000"},{"offset":0.325,"color":"#fff"},{"offset":0.33,"color":"#000"},{"offset":0.335,"color":"#fff"},{"offset":0.34,"color":"#000"},{"offset":0.345,"color":"#fff"},
{"offset":0.35,"color":"#000"},{"offset":0.355,"color":"#fff"},{"offset":0.36,"color":"#000"},{"offset":0.365,"color":"#fff"},{"offset":0.37,"color":"#000"},{"offset":0.375,"color":"#fff"},{"offset":0.38,"color":"#000"},{"offset":0.385,"color":"#fff"},{"offset":0.39,"color":"#000"},{"offset":0.395,"color":"#fff"},
{"offset":0.4,"color":"#000"},{"offset":0.405,"color":"#fff"},{"offset":0.41,"color":"#000"},{"offset":0.415,"color":"#fff"},{"offset":0.42,"color":"#000"},{"offset":0.425,"color":"#fff"},{"offset":0.43,"color":"#000"},{"offset":0.435,"color":"#fff"},{"offset":0.44,"color":"#000"},{"offset":0.445,"color":"#fff"},
{"offset":0.45,"color":"#000"},{"offset":0.455,"color":"#fff"},{"offset":0.46,"color":"#000"},{"offset":0.465,"color":"#fff"},{"offset":0.47,"color":"#000"},{"offset":0.475,"color":"#fff"},{"offset":0.48,"color":"#000"},{"offset":0.485,"color":"#fff"},{"offset":0.49,"color":"#000"},{"offset":0.495,"color":"#fff"},
{"offset":0.5,"color":"#000"},{"offset":0.505,"color":"#fff"},{"offset":0.51,"color":"#000"},{"offset":0.515,"color":"#fff"},{"offset":0.52,"color":"#000"},{"offset":0.525,"color":"#fff"},{"offset":0.53,"color":"#000"},{"offset":0.535,"color":"#fff"},{"offset":0.54,"color":"#000"},{"offset":0.545,"color":"#fff"},
{"offset":0.55,"color":"#000"},{"offset":0.555,"color":"#fff"},{"offset":0.56,"color":"#000"},{"offset":0.565,"color":"#fff"},{"offset":0.57,"color":"#000"},{"offset":0.575,"color":"#fff"},{"offset":0.58,"color":"#000"},{"offset":0.585,"color":"#fff"},{"offset":0.59,"color":"#000"},{"offset":0.595,"color":"#fff"},
{"offset":0.6,"color":"#000"},{"offset":0.605,"color":"#fff"},{"offset":0.61,"color":"#000"},{"offset":0.615,"color":"#fff"},{"offset":0.62,"color":"#000"},{"offset":0.625,"color":"#fff"},{"offset":0.63,"color":"#000"},{"offset":0.635,"color":"#fff"},{"offset":0.64,"color":"#000"},{"offset":0.645,"color":"#fff"},
{"offset":0.65,"color":"#000"},{"offset":0.655,"color":"#fff"},{"offset":0.66,"color":"#000"},{"offset":0.665,"color":"#fff"},{"offset":0.67,"color":"#000"},{"offset":0.675,"color":"#fff"},{"offset":0.68,"color":"#000"},{"offset":0.685,"color":"#fff"},{"offset":0.69,"color":"#000"},{"offset":0.695,"color":"#fff"},
{"offset":0.7,"color":"#000"},{"offset":0.705,"color":"#fff"},{"offset":0.71,"color":"#000"},{"offset":0.715,"color":"#fff"},{"offset":0.72,"color":"#000"},{"offset":0.725,"color":"#fff"},{"offset":0.73,"color":"#000"},{"offset":0.735,"color":"#fff"},{"offset":0.74,"color":"#000"},{"offset":0.745,"color":"#fff"},
{"offset":0.75,"color":"#000"},{"offset":0.755,"color":"#fff"},{"offset":0.76,"color":"#000"},{"offset":0.765,"color":"#fff"},{"offset":0.77,"color":"#000"},{"offset":0.775,"color":"#fff"},{"offset":0.78,"color":"#000"},{"offset":0.785,"color":"#fff"},{"offset":0.79,"color":"#000"},{"offset":0.795,"color":"#fff"},
{"offset":0.8,"color":"#000"},{"offset":0.805,"color":"#fff"},{"offset":0.81,"color":"#000"},{"offset":0.815,"color":"#fff"},{"offset":0.82,"color":"#000"},{"offset":0.825,"color":"#fff"},{"offset":0.83,"color":"#000"},{"offset":0.835,"color":"#fff"},{"offset":0.84,"color":"#000"},{"offset":0.845,"color":"#fff"},
{"offset":0.85,"color":"#000"},{"offset":0.855,"color":"#fff"},{"offset":0.86,"color":"#000"},{"offset":0.865,"color":"#fff"},{"offset":0.87,"color":"#000"},{"offset":0.875,"color":"#fff"},{"offset":0.88,"color":"#000"},{"offset":0.885,"color":"#fff"},{"offset":0.89,"color":"#000"}
]}}, "encoding": {"x2": {"field": "m2"}, "y2": {"field": "a2"}}},
{"data": {"name": "topline"}, "mark": {"type": "rule", "color": "#000", "strokeWidth": 2.5}, "encoding": {"x2": {"field": "m2"}}},
{"data": {"name": "notes"}, "mark": {"type": "text", "fontSize": 20.5, "color": "#1a1a1a", "align": "left", "baseline": "middle"}, "encoding": {"text": {"field": "txt"}}}
]}
]
}
